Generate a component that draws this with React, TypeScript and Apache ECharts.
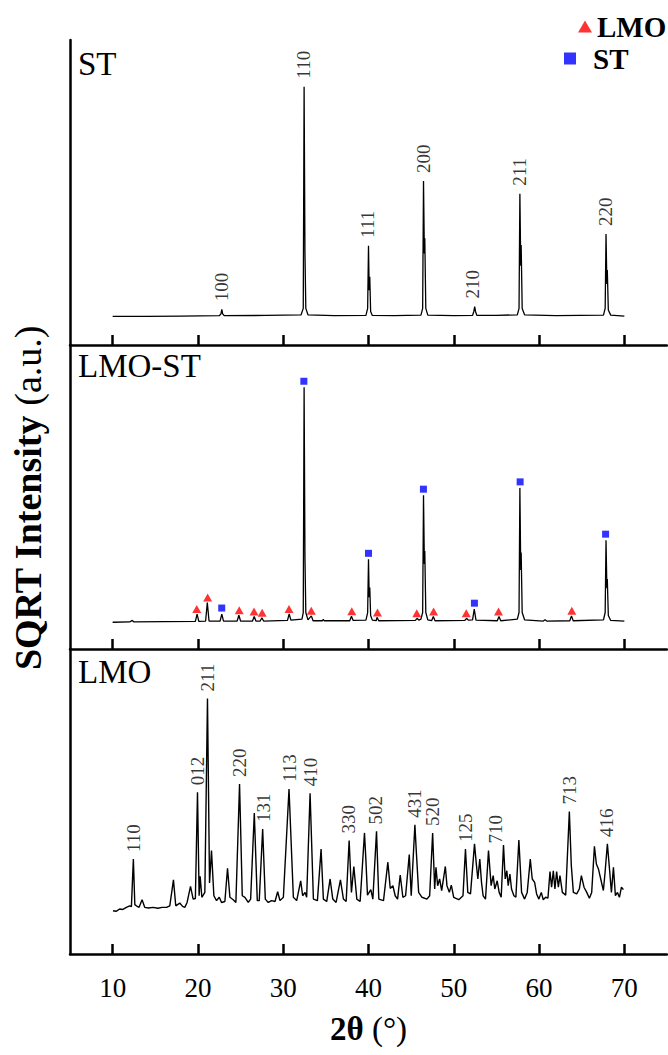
import React, { useEffect, useRef } from "react";
import * as echarts from "echarts";

// ---------- data ----------
const xTicks = [10, 20, 30, 40, 50, 60, 70];

// ST pattern (2θ, SQRT intensity a.u.)
const stPattern: number[][] = [
  [10.0, 9.4], [14.0, 9.4], [18.0, 9.5], [22.5, 9.6], [22.7, 10.2], [22.8, 11.7], [22.9, 10.2], [23.1, 9.6],
  [28.0, 9.7], [32.1, 9.9], [32.35, 12.0], [32.45, 84.7], [32.55, 30.0], [32.65, 12.0], [32.9, 9.9],
  [36.0, 9.6], [39.7, 9.7], [39.9, 12.0], [40.0, 32.5], [40.08, 18.0], [40.15, 22.4], [40.25, 11.0], [40.45, 9.7],
  [43.0, 9.6], [46.15, 9.8], [46.35, 12.0], [46.45, 53.8], [46.55, 30.0], [46.6, 35.0], [46.72, 12.0], [46.95, 9.8],
  [50.0, 9.6], [52.2, 9.7], [52.35, 11.0], [52.45, 12.6], [52.55, 11.0], [52.7, 9.7],
  [55.0, 9.7], [57.45, 9.9], [57.65, 12.0], [57.75, 49.6], [57.85, 26.0], [57.9, 32.8], [58.02, 12.0], [58.3, 9.9],
  [62.0, 9.6], [67.55, 9.8], [67.75, 12.0], [67.85, 36.4], [67.95, 20.0], [68.0, 24.6], [68.12, 11.5], [68.4, 9.8],
  [70.0, 9.5],
];
const stPeakLabels = [
  { hkl: "100", x: 22.8, y: 11.7 },
  { hkl: "110", x: 32.35, y: 84.7 },
  { hkl: "111", x: 39.85, y: 32.5 },
  { hkl: "200", x: 46.4, y: 53.8 },
  { hkl: "210", x: 52.2, y: 12.6 },
  { hkl: "211", x: 57.75, y: 49.6 },
  { hkl: "220", x: 67.8, y: 36.4 },
];

// LMO-ST composite pattern
const lmoStPattern: number[][] = [
  [10.0, 8.8], [12.0, 8.9], [12.3, 9.4], [12.5, 8.9], [16.0, 9.0], [19.7, 9.1], [19.9, 11.5], [20.1, 9.1],
  [20.9, 9.2], [21.1, 15.3], [21.3, 9.2], [22.6, 9.2], [22.8, 11.5], [23.0, 9.2], [24.6, 9.2], [24.8, 11.1], [25.0, 9.2],
  [26.4, 9.2], [26.6, 10.7], [26.8, 9.2], [27.3, 9.2], [27.5, 10.3], [27.7, 9.2], [30.5, 9.4], [30.7, 11.5], [30.9, 9.5],
  [32.2, 9.8], [32.35, 12.0], [32.45, 86.1], [32.55, 30.0], [32.65, 12.0], [32.9, 9.6], [33.3, 10.9], [33.5, 9.3],
  [34.6, 9.3], [34.7, 9.8], [34.8, 9.3], [37.8, 9.3], [38.0, 10.8], [38.2, 9.4], [39.7, 9.5], [39.9, 12.0], [40.0, 29.5],
  [40.08, 17.0], [40.15, 20.2], [40.25, 11.0], [40.45, 9.5], [40.9, 9.3], [41.0, 10.4], [41.2, 9.3], [45.5, 9.4],
  [45.7, 10.1], [45.9, 9.5], [46.15, 9.8], [46.35, 12.0], [46.45, 50.6], [46.55, 28.0], [46.6, 32.2], [46.72, 12.0],
  [46.95, 9.6], [47.4, 9.3], [47.6, 10.7], [47.8, 9.3], [51.3, 9.4], [51.5, 10.1], [51.7, 9.5], [52.2, 9.6], [52.4, 13.1],
  [52.6, 9.5], [55.1, 9.3], [55.3, 10.7], [55.5, 9.3], [57.45, 9.8], [57.65, 12.0], [57.75, 53.0], [57.85, 26.0],
  [57.9, 31.7], [58.02, 12.0], [58.3, 9.6], [60.5, 9.2], [60.7, 9.6], [60.9, 9.2], [63.6, 9.3], [63.8, 10.9], [64.0, 9.3],
  [67.55, 9.6], [67.75, 12.0], [67.85, 35.8], [67.95, 20.0], [68.0, 23.0], [68.12, 11.0], [68.4, 9.4], [70.0, 9.2],
];
// LMO reflections marked in LMO-ST (peak positions / peak heights)
const lmoMarkX = [19.86, 21.14, 24.84, 26.58, 27.53, 30.68, 33.29, 38.04, 41.05, 45.66, 47.63, 51.46, 55.25, 63.84];
const lmoMarkY = [11.5, 15.3, 11.1, 10.7, 10.3, 11.5, 10.9, 10.8, 10.4, 10.1, 10.7, 10.1, 10.7, 10.9];
// ST reflections marked in LMO-ST
const stMarkX = [22.79, 32.42, 40.0, 46.44, 52.42, 57.78, 67.8];
const stMarkY = [11.5, 86.1, 29.5, 50.6, 13.1, 53.0, 35.8];

// LMO pattern
const lmoPattern: number[][] = [
  [10.04, 14.2], [10.4, 14.0], [10.82, 14.75], [11.2, 14.6], [11.61, 15.3], [12.0, 15.8], [12.2, 15.5], [12.43, 31.1],
  [12.6, 16.2], [12.78, 15.8], [13.1, 15.3], [13.45, 17.8], [13.76, 15.3], [14.2, 15.1], [14.74, 15.3], [15.3, 15.0],
  [15.8, 15.3], [16.31, 15.3], [16.7, 15.8], [17.13, 24.3], [17.4, 15.8], [17.87, 16.7], [18.2, 15.6], [18.46, 15.3],
  [18.73, 16.9], [19.13, 22.2], [19.44, 18.0], [19.7, 18.2], [19.95, 53.0], [20.14, 19.1], [20.26, 25.5], [20.46, 18.6],
  [20.81, 20.2], [21.12, 83.8], [21.36, 23.3], [21.59, 33.9], [21.87, 19.1], [22.18, 17.5], [22.5, 18.6], [22.77, 16.9],
  [23.16, 17.2], [23.47, 28.1], [23.75, 18.6], [24.14, 17.8], [24.45, 16.9], [24.88, 55.7], [25.2, 19.1], [25.51, 18.6],
  [25.9, 16.9], [26.18, 18.0], [26.61, 46.2], [26.96, 17.5], [27.19, 17.5], [27.59, 41.0], [27.9, 18.0], [28.25, 16.9],
  [28.64, 17.5], [29.04, 17.2], [29.35, 20.4], [29.62, 17.5], [30.02, 18.6], [30.68, 54.1],
  [31.19, 18.6], [31.58, 17.5], [32.05, 24.0], [32.28, 19.1], [32.56, 20.2], [32.75, 18.6], [33.15, 52.7], [33.54, 18.0],
  [34.01, 17.5], [34.44, 34.4], [34.71, 18.0], [35.1, 17.2], [35.5, 24.6], [35.81, 18.0], [36.2, 16.9], [36.71, 24.3],
  [37.06, 18.0], [37.38, 17.2], [37.73, 37.2], [38.0, 20.2], [38.28, 28.7], [38.63, 18.0], [39.02, 17.2], [39.53, 39.7],
  [39.69, 31.1], [39.88, 19.3], [40.27, 21.1], [40.51, 18.0], [40.94, 40.2], [41.21, 18.0], [41.76, 17.5], [42.27, 30.1],
  [42.55, 21.5], [42.86, 22.4], [43.13, 19.1], [43.41, 18.0], [43.72, 25.9], [44.03, 18.6], [44.35, 19.1], [44.78, 32.6],
  [45.01, 19.1], [45.44, 42.4], [45.6, 33.9], [45.88, 20.2], [46.27, 18.6], [46.85, 18.0], [47.17, 19.1], [47.52, 39.7],
  [47.76, 21.3], [47.91, 28.4], [48.11, 22.4], [48.34, 24.6], [48.58, 20.8], [49.01, 28.7], [49.2, 22.4], [49.48, 20.2],
  [49.71, 22.6], [49.99, 18.6], [50.58, 17.8], [51.08, 19.1],
  [51.37, 34.4], [51.64, 20.2], [51.96, 19.7], [52.43, 36.1], [52.66, 29.0], [52.82, 24.6], [53.05, 31.1], [53.25, 23.5],
  [53.44, 19.1], [53.72, 18.0], [54.07, 33.9], [54.38, 22.4], [54.62, 25.7], [54.81, 21.3], [55.09, 24.0], [55.32, 20.2],
  [55.56, 18.6], [55.83, 35.7], [56.03, 24.6], [56.22, 27.3], [56.38, 22.4], [56.58, 26.2], [56.77, 21.3], [57.05, 19.1],
  [57.28, 18.6], [57.63, 37.4], [57.95, 20.2], [58.3, 18.0], [58.61, 20.2], [58.97, 31.1], [59.2, 24.6], [59.48, 23.5],
  [59.71, 19.7], [59.98, 18.0], [60.26, 20.2], [60.49, 17.8], [60.77, 18.6], [61.04, 18.3], [61.28, 27.0], [61.47, 21.9],
  [61.67, 27.3], [61.86, 21.3], [62.06, 27.0], [62.26, 21.9], [62.45, 25.7], [62.73, 20.2], [63.12, 19.3], [63.55, 46.7],
  [63.78, 29.0], [64.02, 20.2], [64.41, 19.7], [64.72, 21.3], [64.96, 25.7], [65.27, 21.9], [65.59, 20.2], [65.9, 18.3],
  [66.17, 20.2], [66.49, 35.3], [66.72, 29.5], [66.96, 27.9], [67.23, 24.6], [67.54, 20.8], [67.74, 26.8], [68.01, 36.1],
  [68.29, 26.8], [68.48, 20.2], [68.72, 28.4], [68.95, 19.1], [69.19, 20.2], [69.42, 18.6], [69.66, 21.9], [69.89, 21.1],
];
const lmoPeakLabels = [
  { hkl: "110", x: 12.43, y: 31.1 },
  { hkl: "012", x: 19.9, y: 53.0 },
  { hkl: "211", x: 21.12, y: 83.8 },
  { hkl: "220", x: 24.88, y: 55.7 },
  { hkl: "131", x: 27.66, y: 41.0 },
  { hkl: "113", x: 30.68, y: 54.1 },
  { hkl: "410", x: 33.15, y: 52.7 },
  { hkl: "330", x: 37.7, y: 37.2 },
  { hkl: "502", x: 40.85, y: 40.2 },
  { hkl: "431", x: 45.35, y: 42.4 },
  { hkl: "520", x: 47.48, y: 39.7 },
  { hkl: "125", x: 51.4, y: 34.4 },
  { hkl: "710", x: 54.9, y: 33.9 },
  { hkl: "713", x: 63.55, y: 46.7 },
  { hkl: "416", x: 67.9, y: 36.1 },
];

const panelNames = ["ST", "LMO-ST", "LMO"];

// ---------- styling ----------
const FONT = "Liberation Serif";
const AXIS_W = 2.5;

export default function App() {
  const ref = useRef<HTMLDivElement>(null);

  useEffect(() => {
    if (!ref.current) return;
    const chart = echarts.init(ref.current, undefined, { renderer: "svg" });

    const grids = [
      { left: 70, right: 1, top: 40, height: 305 },
      { left: 70, right: 1, top: 345, height: 304 },
      { left: 70, right: 1, top: 649, height: 305 },
    ];

    const xAxes = grids.map((_, i) => ({
      gridIndex: i,
      type: "value",
      min: 5,
      max: 75,
      axisLine: { show: true, onZero: false, lineStyle: { color: "#000", width: AXIS_W } },
      axisTick: {
        show: true,
        inside: true,
        length: 10,
        customValues: xTicks,
        lineStyle: { color: "#000", width: AXIS_W },
      },
      axisLabel: {
        show: i === 2,
        customValues: xTicks,
        color: "#000",
        fontFamily: FONT,
        fontSize: 27,
        margin: 20,
      },
      splitLine: { show: false },
      ...(i === 2
        ? {
            name: "{b|2θ} {n|(°)}",
            nameLocation: "middle",
            nameGap: 58,
            nameTextStyle: {
              color: "#000",
              fontFamily: FONT,
              fontSize: 33,
              rich: {
                b: { fontFamily: FONT, fontSize: 33, fontWeight: "bold", color: "#000" },
                n: { fontFamily: FONT, fontSize: 33, color: "#000" },
              },
            },
          }
        : {}),
    }));

    const yAxes = grids.map((_, i) => ({
      gridIndex: i,
      type: "value",
      min: 0,
      max: 100,
      axisLine: { show: true, onZero: false, lineStyle: { color: "#000", width: AXIS_W } },
      axisTick: { show: false },
      axisLabel: { show: false },
      splitLine: { show: false },
    }));

    const labelSeries = (idx: number, items: { hkl: string; x: number; y: number }[], dist: number) => ({
      type: "scatter",
      xAxisIndex: idx,
      yAxisIndex: idx,
      silent: true,
      symbolSize: 0,
      data: items.map((p) => ({ name: p.hkl, value: [p.x, p.y] })),
      label: {
        show: true,
        formatter: "{b}",
        position: "top",
        distance: dist,
        rotate: 90,
        align: "left",
        verticalAlign: "middle",
        color: "#000",
        fontFamily: FONT,
        fontSize: 19,
      },
      z: 6,
    });

    const legendText = {
      fontFamily: FONT,
      fontSize: 29,
      fontWeight: "bold",
      color: "#000",
      lineHeight: 29,
      padding: [0, 0, 0, 0],
    };

    const option = {
      animation: false,
      backgroundColor: "#fff",
      grid: grids,
      xAxis: xAxes,
      yAxis: yAxes,
      legend: [
        {
          orient: "vertical",
          left: 578,
          top: 12,
          align: "left",
          padding: 0,
          itemWidth: 14,
          itemHeight: 12,
          selectedMode: false,
          data: ["LMO"],
          textStyle: legendText,
        },
        {
          orient: "vertical",
          left: 564,
          top: 44,
          align: "left",
          padding: 0,
          itemWidth: 12,
          itemHeight: 12,
          selectedMode: false,
          data: ["ST"],
          textStyle: { ...legendText, padding: [0, 0, 0, 12] },
        },
      ],
      series: [
        {
          type: "line",
          xAxisIndex: 0,
          yAxisIndex: 0,
          data: stPattern,
          showSymbol: false,
          silent: true,
          lineStyle: { color: "#000", width: 1.3 },
        },
        labelSeries(0, stPeakLabels, 8),
        {
          type: "line",
          xAxisIndex: 1,
          yAxisIndex: 1,
          data: lmoStPattern,
          showSymbol: false,
          silent: true,
          lineStyle: { color: "#000", width: 1.3 },
        },
        {
          name: "LMO",
          type: "scatter",
          xAxisIndex: 1,
          yAxisIndex: 1,
          symbol: "triangle",
          symbolSize: [9, 8],
          symbolOffset: [0, -5],
          itemStyle: { color: "#ff0000" },
          data: lmoMarkX.map((x, i) => [x, lmoMarkY[i]]),
          z: 5,
        },
        {
          name: "ST",
          type: "scatter",
          xAxisIndex: 1,
          yAxisIndex: 1,
          symbol: "rect",
          symbolSize: 7,
          symbolOffset: [0, -6],
          itemStyle: { color: "#0000ff" },
          data: stMarkX.map((x, i) => [x, stMarkY[i]]),
          z: 5,
        },
        {
          type: "line",
          xAxisIndex: 2,
          yAxisIndex: 2,
          data: lmoPattern,
          showSymbol: false,
          silent: true,
          lineStyle: { color: "#000", width: 1.4 },
        },
        labelSeries(2, lmoPeakLabels, 7),
      ],
      graphic: [
        ...panelNames.map((name, i) => ({
          type: "text",
          x: 78,
          y: [64, 366, 672][i],
          style: {
            text: name,
            fontFamily: FONT,
            fontSize: 33,
            fill: "#000",
            align: "left",
            verticalAlign: "middle",
          },
        })),
        {
          type: "text",
          x: 28,
          y: 498,
          rotation: Math.PI / 2,
          style: {
            text: "{b|SQRT Intensity} {n|(a.u.)}",
            fill: "#000",
            align: "center",
            verticalAlign: "middle",
            fontFamily: FONT,
            fontSize: 38,
            rich: {
              b: { fontFamily: FONT, fontSize: 38, fontWeight: "bold", fill: "#000" },
              n: { fontFamily: FONT, fontSize: 38, fill: "#000" },
            },
          },
        },
      ],
    };

    chart.setOption(option as any);
    return () => chart.dispose();
  }, []);

  return (
    <div
      ref={ref}
      style={{ position: "absolute", left: 0, top: 0, width: 668, height: 1055, background: "#fff" }}
    />
  );
}
